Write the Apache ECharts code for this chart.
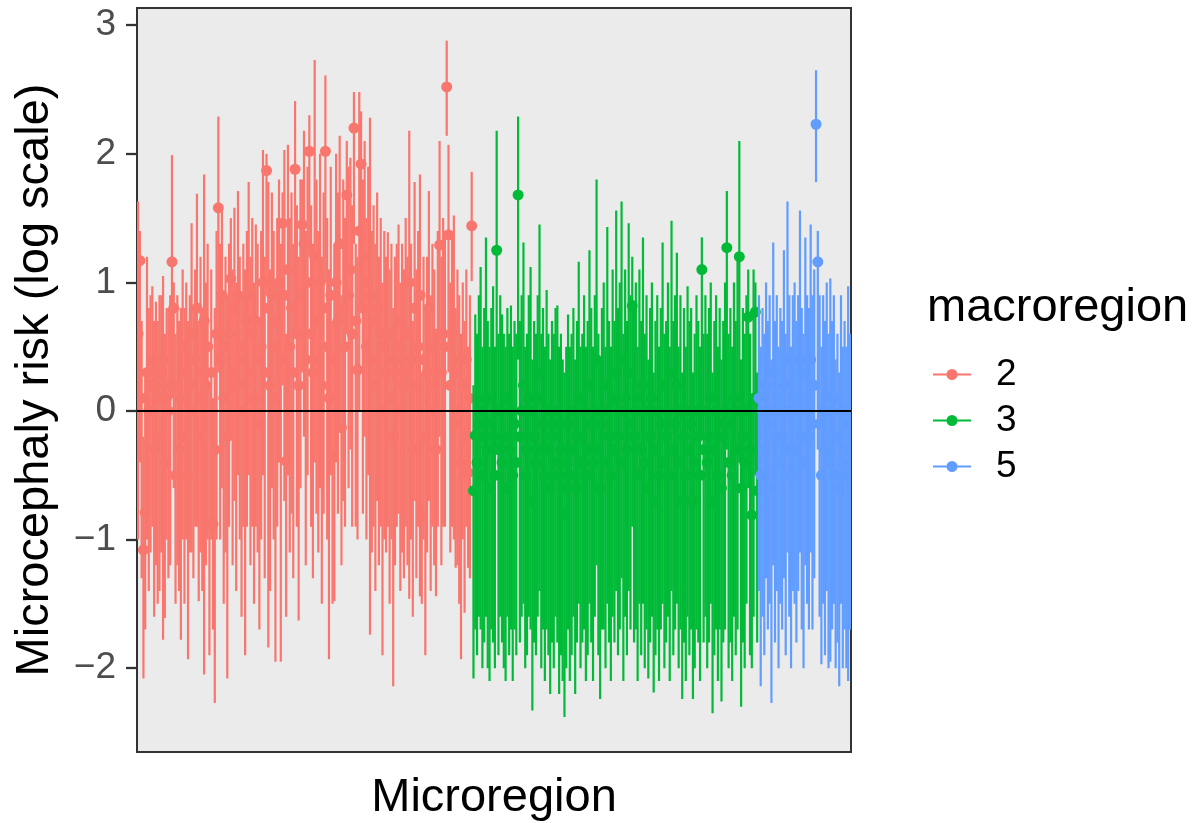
<!DOCTYPE html>
<html>
<head>
<meta charset="utf-8">
<script src="https://cdn.jsdelivr.net/npm/echarts@6/dist/echarts.min.js"></script>
<style>
html,body{margin:0;padding:0;background:#fff}
#chart{width:1196px;height:823px}
</style>
</head>
<body>
<div id="chart"></div>
<script>
// one entry per microregion: [estimate, lower, upper] (log scale)
const region2 = [
[0.6,-1.0,1.63],[1.17,-0.4,1.4],[0.1,-1.3,0.7],[-1.08,-2.08,-0.2],[-0.79,-1.7,0.3],[0.3,-1.0,1.2],[0.0,-1.4,0.8],[0.2,-1.1,0.9],[0.4,-0.9,0.97],[-0.3,-1.6,0.7],
[0.2,-1.2,0.85],[0.1,-1.5,0.7],[-0.2,-1.4,0.9],[0.3,-1.1,0.9],[0.4,-1.78,1.05],[-0.4,-1.61,0.6],[0.1,-1.0,0.8],[0.0,-1.3,0.8],[0.2,-1.2,0.9],[1.16,0.1,1.99],
[0.8,-0.6,1.0],[-0.5,-1.5,0.6],[0.2,-1.2,0.9],[-0.3,-1.4,0.7],[0.1,-1.78,0.8],[0.5,-1.0,1.1],[-0.2,-1.5,0.8],[0.3,-1.0,1.0],[-0.5,-1.93,0.7],[0.2,-1.1,0.9],
[0.6,-1.1,1.46],[0.0,-1.3,0.8],[0.4,-0.9,1.1],[0.8,-0.9,1.69],[-0.2,-1.48,0.7],[0.3,-1.1,1.2],[0.1,-1.4,0.8],[0.7,-2.05,1.84],[0.2,-1.2,1.0],[0.5,-1.0,1.3],
[-0.88,-1.9,0.2],[0.3,-1.0,1.1],[-0.88,-1.7,0.1],[-0.3,-2.27,0.8],[0.6,-1.0,1.4],[1.58,0.3,2.29],[0.4,-1.0,1.3],[0.9,-0.6,1.6],[0.1,-1.5,0.9],[0.5,-1.1,1.2],
[-0.2,-2.08,0.9],[0.6,-0.9,1.3],[1.03,-0.2,1.5],[0.3,-1.2,1.1],[0.8,-0.7,1.58],[0.2,-1.4,1.0],[0.9,-0.5,1.71],[0.4,-1.0,1.2],[0.0,-1.6,0.9],[0.5,-0.9,1.3],
[0.2,-1.9,1.1],[0.7,-0.9,1.4],[0.9,-0.5,1.78],[0.3,-1.2,1.2],[0.6,-0.9,1.5],[0.1,-1.5,1.0],[0.7,-0.9,1.45],[0.4,-1.1,1.3],[-0.1,-1.7,0.7],[0.5,-1.0,1.4],
[1.0,-0.5,2.03],[0.3,-1.3,1.2],[1.87,0.9,2.0],[0.8,-1.84,1.78],[0.2,-1.4,1.1],[0.9,-0.6,1.7],[0.5,-1.0,1.4],[0.1,-1.95,1.0],[0.7,-0.9,1.5],[1.0,-0.4,1.8],
[0.4,-1.95,1.3],[1.46,0.2,1.7],[0.9,-0.7,2.03],[-0.39,-1.6,0.6],[1.1,-0.5,2.07],[0.5,-1.1,1.5],[0.8,-0.8,1.7],[0.3,-1.3,1.3],[1.88,0.6,2.41],[0.6,-0.9,1.6],
[0.2,-1.63,1.2],[0.9,-0.6,1.8],[1.45,0.3,1.8],[1.3,-0.2,2.18],[0.4,-1.2,1.4],[1.0,-0.5,1.9],[2.02,1.2,2.3],[0.6,-0.9,1.6],[0.3,-1.3,1.3],[1.2,-0.4,2.73],
[0.7,-0.8,1.8],[0.4,-1.1,1.4],[1.0,-0.6,2.0],[0.2,-1.5,1.2],[0.8,-0.8,1.7],[2.02,1.0,2.61],[0.5,-1.0,1.5],[0.1,-1.93,1.1],[0.9,-0.5,1.9],[-0.35,-1.5,0.7],
[0.4,-1.48,1.3],[1.0,-0.4,2.0],[0.7,-0.8,1.7],[1.3,-0.1,2.14],[-0.13,-1.2,0.9],[0.8,-0.7,1.8],[0.5,-0.9,1.5],[1.68,0.6,2.1],[0.9,-0.6,1.9],[1.1,-0.3,1.97],
[0.6,-0.9,1.6],[2.2,1.3,2.48],[0.7,-0.9,1.3],[0.32,-1.0,1.2],[1.4,0.0,2.48],[1.92,0.8,2.33],[0.8,-0.8,1.8],[1.2,-0.2,2.1],[0.5,-1.0,1.5],[1.0,-0.5,1.9],
[0.9,-1.74,2.28],[0.4,-1.1,1.4],[0.7,-0.9,1.6],[0.2,-1.4,1.3],[0.8,-0.7,1.7],[0.3,-1.2,1.2],[0.6,-0.9,1.5],[0.0,-1.9,1.0],[0.5,-1.0,1.4],[0.3,-1.1,1.2],
[0.6,-0.9,1.39],[0.1,-1.5,1.1],[0.4,-1.0,1.3],[-0.2,-2.14,0.8],[0.3,-1.2,1.2],[0.5,-0.9,1.3],[0.7,-0.8,1.45],[0.0,-1.4,1.0],[0.4,-1.1,1.3],[0.2,-1.3,1.1],
[0.6,-0.9,1.5],[0.3,-1.2,1.2],[1.0,-1.46,2.18],[0.4,-1.0,1.3],[-0.3,-1.6,0.7],[0.8,-0.7,1.78],[0.2,-1.3,1.1],[0.5,-0.9,1.4],[0.9,-1.44,1.84],[-0.81,-1.5,0.3],
[0.4,-1.0,1.2],[-0.2,-1.9,0.8],[0.3,-1.1,1.2],[0.8,-0.7,1.71],[0.0,-1.4,0.9],[0.5,-0.9,1.3],[0.2,-1.2,1.1],[-0.3,-1.44,0.6],[0.6,-0.9,1.4],[1.29,-0.2,2.1],
[0.3,-1.2,1.2],[0.6,-0.9,1.5],[0.5,-0.9,1.4],[2.52,2.14,2.88],[1.37,0.3,2.07],[0.2,-1.1,1.0],[0.6,-0.9,1.4],[0.4,-1.0,1.52],[-0.1,-1.22,0.8],[0.3,-1.2,1.1],
[0.0,-1.5,0.9],[-0.4,-1.93,0.6],[0.2,-1.0,1.0],[-0.2,-1.57,0.7],[0.4,-0.9,1.1],[-0.48,-1.22,0.5],[0.1,-1.3,0.9],[1.44,1.01,1.86]
];
const region3 = [
[-0.62,-2.08,0.2],[-0.19,-1.7,0.75],[-0.4,-1.9,0.6],[-0.1,-1.6,0.9],[0.0,-1.7,1.12],[-0.5,-2.0,0.5],[-0.2,-1.8,0.8],[0.1,-1.6,1.35],[-0.3,-2.0,0.7],[-0.6,-2.1,0.5],
[-0.1,-1.7,0.8],[-0.2,-1.8,0.97],[-0.5,-2.0,0.5],[1.25,-0.3,2.18],[-0.3,-1.9,0.6],[0.0,-1.6,0.9],[-0.4,-1.8,0.75],[-0.2,-2.0,0.6],[-0.6,-2.1,0.5],[0.1,-1.6,0.8],
[-0.3,-1.9,0.6],[0.0,-1.7,0.82],[-0.5,-2.1,0.5],[-0.1,-1.7,0.7],[-0.4,-1.9,0.6],[1.68,0.4,2.29],[-0.2,-1.8,0.7],[0.0,-1.6,0.9],[0.2,-1.5,1.31],[-0.5,-2.0,0.5],
[-0.3,-1.9,0.6],[0.1,-1.6,0.9],[0.0,-1.7,1.12],[-0.7,-2.33,0.4],[-0.2,-1.8,0.7],[-0.4,-1.9,0.6],[0.1,-1.6,0.9],[0.3,-1.4,1.45],[-0.3,-2.0,0.6],[-0.1,-1.7,0.8],
[-0.5,-2.1,0.5],[0.0,-1.7,0.94],[-0.3,-1.9,0.6],[-0.6,-2.2,0.4],[-0.2,-1.8,0.7],[-0.4,-2.0,0.6],[0.0,-1.6,0.8],[-0.1,-1.8,0.82],[-0.5,-2.2,0.5],[-0.3,-1.9,0.6],
[-0.6,-2.1,0.4],[-0.8,-2.38,0.3],[-0.4,-2.0,0.5],[-0.1,-1.7,0.75],[-0.5,-2.1,0.5],[-0.3,-1.9,0.6],[0.0,-1.6,0.8],[-0.6,-2.2,0.4],[-0.2,-1.8,0.7],[0.1,-1.5,1.16],
[-0.4,-2.0,0.5],[-0.2,-1.8,0.6],[0.0,-1.7,0.9],[-0.5,-2.1,0.5],[-0.3,-1.9,0.7],[0.2,-1.5,1.25],[-0.1,-1.8,0.8],[-0.4,-2.1,0.5],[0.0,-1.6,0.9],[0.4,-1.2,1.8],
[-0.3,-1.9,0.6],[-0.6,-2.24,0.4],[-0.1,-1.7,0.8],[0.0,-1.7,1.0],[-0.4,-2.0,0.5],[0.2,-1.5,1.43],[-0.2,-1.8,0.7],[-0.5,-2.1,0.5],[0.1,-1.6,1.1],[-0.3,-1.8,0.7],
[0.3,-1.4,1.56],[-0.2,-1.9,0.8],[0.0,-1.7,1.0],[0.4,-1.3,1.63],[-0.4,-2.1,0.6],[0.1,-1.6,1.1],[-0.3,-1.9,0.7],[0.3,-1.4,1.46],[-0.1,-1.7,0.9],[0.82,-0.9,1.2],
[-0.2,-1.8,0.8],[0.0,-1.7,1.0],[-0.5,-2.1,0.5],[0.1,-1.5,1.1],[-0.3,-1.9,0.7],[0.2,-1.5,1.35],[-0.4,-2.0,0.6],[0.0,-1.7,0.9],[-0.6,-2.08,0.4],[-0.2,-1.8,0.8],
[0.1,-1.6,1.0],[-0.7,-2.19,0.3],[-0.3,-1.9,0.7],[0.0,-1.7,0.9],[-0.5,-2.1,0.5],[-0.1,-1.7,0.8],[0.2,-1.5,1.31],[-0.4,-2.0,0.6],[-0.2,-1.8,0.7],[0.0,-1.6,1.0],
[-0.5,-2.1,0.5],[0.3,-1.4,1.48],[-0.3,-1.9,0.7],[-0.1,-1.7,0.9],[0.2,-1.5,1.23],[-0.4,-2.0,0.5],[0.0,-1.7,0.9],[-0.7,-2.24,0.3],[-0.2,-1.8,0.8],[-0.5,-2.1,0.5],
[0.0,-1.6,0.97],[-0.3,-1.9,0.7],[-0.1,-1.7,0.8],[-0.7,-2.24,0.3],[-0.4,-2.0,0.6],[0.0,-1.7,0.9],[-0.2,-1.8,0.7],[-0.5,-2.1,0.5],[1.1,-0.2,1.35],[-0.3,-1.8,0.6],
[0.0,-1.6,0.9],[-0.4,-2.0,0.6],[-0.2,-1.8,0.8],[0.1,-1.5,1.0],[-0.7,-2.35,0.3],[-0.3,-1.9,0.7],[0.0,-1.7,0.9],[-0.5,-2.1,0.5],[-0.1,-1.7,0.8],[-0.6,-2.26,0.4],
[-0.2,-1.8,0.7],[0.0,-1.7,1.0],[1.27,-0.3,1.71],[-0.4,-2.0,0.6],[-0.1,-1.8,0.8],[-0.5,-2.1,0.5],[0.1,-1.6,1.0],[-0.3,-1.9,0.7],[0.0,-1.7,1.2],[1.2,-0.4,2.1],
[-0.6,-2.3,0.4],[-0.2,-1.8,0.8],[-0.4,-2.0,0.6],[0.0,-1.5,0.9],[0.73,-0.6,1.1],[-0.3,-1.9,0.6],[-0.81,-2.0,0.1],[0.1,-1.6,1.1],[0.77,-0.5,1.0],[-0.62,-1.8,0.3]
];
const region5 = [
[0.1,-1.4,0.9],[-0.5,-2.14,0.5],[0.0,-1.6,0.8],[-0.3,-1.9,0.6],[0.2,-1.3,1.0],[-0.1,-1.7,0.7],[0.0,-1.5,0.9],[-0.6,-2.27,0.4],[0.3,-1.2,1.31],[-0.2,-1.8,0.7],
[0.1,-1.4,0.9],[-0.4,-2.0,0.5],[0.0,-1.5,0.8],[-0.2,-1.7,0.7],[0.2,-1.3,1.25],[-0.3,-1.9,0.6],[0.4,-1.1,1.63],[0.0,-1.6,0.9],[-0.5,-2.0,0.5],[0.1,-1.4,0.9],
[0.0,-1.5,1.0],[-0.3,-1.8,0.7],[0.1,-1.4,0.9],[0.4,-1.1,1.56],[-0.2,-1.7,0.8],[-0.4,-2.0,0.6],[0.3,-1.2,1.35],[0.0,-1.5,0.9],[-0.2,-1.7,0.8],[0.4,-1.1,1.45],
[-0.1,-1.7,0.9],[0.2,-1.3,1.1],[2.23,1.78,2.65],[1.16,-0.3,1.4],[-0.1,-1.6,0.9],[-0.5,-1.97,0.5],[0.0,-1.5,0.9],[-0.3,-1.9,0.7],[0.1,-1.4,1.0],[-0.4,-2.0,0.6],
[0.0,-1.95,1.03],[-0.2,-1.7,0.7],[0.1,-1.5,0.9],[-0.5,-2.0,0.4],[-0.2,-1.8,0.6],[-0.6,-2.14,0.3],[0.0,-1.5,0.9],[-0.4,-2.0,0.5],[-0.1,-1.7,0.7],[-0.5,-2.0,0.5],
[0.0,-2.1,0.97],[-0.3,-1.7,0.6]
];
const groups = ['2', '3', '5'];
const colors = ['#F8766D', '#00BA38', '#619CFF'];
const yTicks = [-2, -1, 0, 1, 2, 3];

const lists = [region2, region3, region5];
let start = 1;
const rows = lists.map(function (list) {
  const r = list.map(function (d, i) { return [start + i, d[0], d[1], d[2]]; });
  start += list.length;
  return r;
});
const total = start - 1;

function renderRange(params, api) {
  const x = api.value(0);
  const hi = api.coord([x, api.value(3)]);
  const lo = api.coord([x, api.value(2)]);
  const mid = api.coord([x, api.value(1)]);
  const color = api.visual('color');
  return {
    type: 'group',
    children: [
      { type: 'line', shape: { x1: hi[0], y1: hi[1], x2: lo[0], y2: lo[1] }, style: { stroke: color, lineWidth: 2.2 } },
      { type: 'circle', shape: { cx: mid[0], cy: mid[1], r: 5.5 }, style: { fill: color } }
    ]
  };
}

const font = 'Liberation Sans';
const legendIcon = 'path://M0,5H38V7H0Z M13.5,6a5.5,5.5 0 1,1 11,0a5.5,5.5 0 1,1 -11,0Z';

const series = groups.map(function (g, k) {
  return {
    type: 'custom',
    name: g,
    renderItem: renderRange,
    data: rows[k],
    encode: { x: 0, y: [1, 2, 3] },
    itemStyle: { color: colors[k] },
    clip: true
  };
});
series[2].markLine = {
  silent: true,
  symbol: 'none',
  label: { show: false },
  lineStyle: { color: '#000', width: 2, type: 'solid' },
  data: [{ yAxis: 0 }]
};

const chart = echarts.init(document.getElementById('chart'));
chart.setOption({
  animation: false,
  textStyle: { fontFamily: font },
  grid: {
    left: 137, top: 8, width: 714, height: 744,
    outerBoundsMode: 'none', containLabel: false,
    show: true, backgroundColor: '#EBEBEB', borderColor: '#333333', borderWidth: 2
  },
  title: {
    text: 'macroregion', left: 922, top: 280,
    textStyle: { fontFamily: font, fontSize: 47, fontWeight: 'normal', color: '#000' }
  },
  legend: {
    orient: 'vertical', left: 928, top: 351,
    itemWidth: 38, itemHeight: 12, itemGap: 9,
    icon: legendIcon,
    data: groups,
    textStyle: { fontFamily: font, fontSize: 37, color: '#000', padding: [0, 0, 0, 20] }
  },
  xAxis: {
    type: 'value', min: 0.4, max: total + 0.6,
    axisLine: { show: false }, axisTick: { show: false }, axisLabel: { show: false },
    splitLine: { show: false },
    name: 'Microregion', nameLocation: 'middle', nameGap: 23,
    nameTextStyle: { fontFamily: font, fontSize: 47, color: '#000' }
  },
  yAxis: {
    type: 'value', min: -2.652, max: 3.134,
    axisLine: { show: false },
    axisTick: { show: true, customValues: yTicks, length: 11, lineStyle: { color: '#333333', width: 2.3 } },
    axisLabel: {
      customValues: yTicks, color: '#4D4D4D', fontSize: 37, margin: 21, fontFamily: font,
      formatter: function (v) { return String(v).replace('-', '\u2212'); }
    },
    splitLine: { show: false },
    name: 'Microcephaly risk (log scale)', nameLocation: 'middle', nameGap: 78,
    nameTextStyle: { fontFamily: font, fontSize: 47, color: '#000' }
  },
  series: series
});
</script>
</body>
</html>
